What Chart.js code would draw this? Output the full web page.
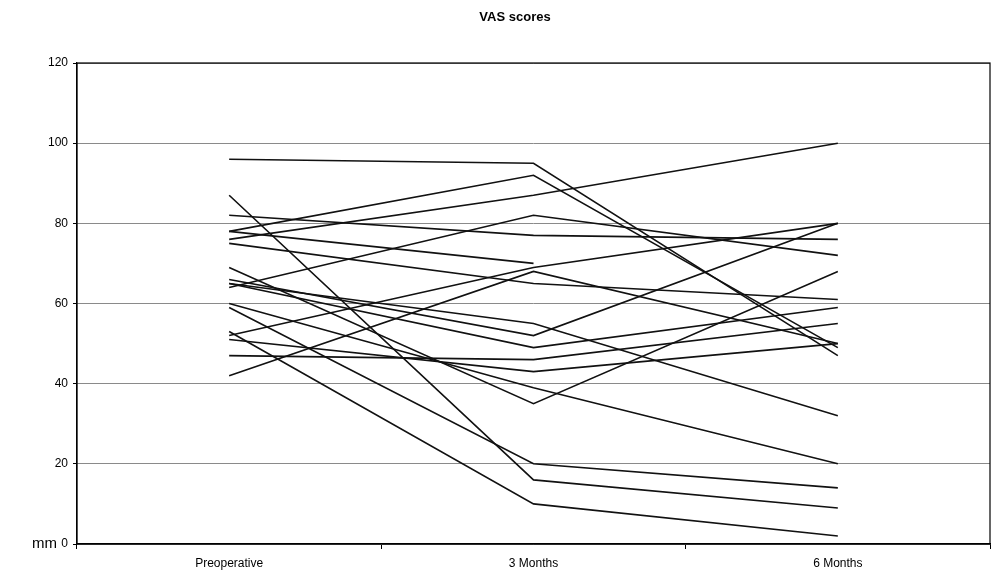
<!DOCTYPE html>
<html>
<head>
<meta charset="utf-8">
<script src="https://cdn.jsdelivr.net/npm/chart.js@4"></script>
<style>
html,body{margin:0;padding:0;background:#fff;}
#wrap{width:991px;height:572px;position:relative;}
</style>
</head>
<body>
<div id="wrap"><canvas id="c"></canvas></div>
<script>
const categories = ['Preoperative', '3 Months', '6 Months'];
const yTicks = [0, 20, 40, 60, 80, 100, 120];
const preoperative = [96, 87, 82, 78, 78, 76, 75, 69, 66, 65, 65, 64, 60, 59, 53, 52, 51, 47, 42];
const month3 =       [95, 16, 77, 92, 70, 87, 65, 35, 52, 55, 49, 82, 39, 20, 10, 69, 43, 46, 68];
const month6 =       [47,  9, 76, 49, null, 100, 61, 68, 80, 32, 59, 72, 20, 14, 2, 80, 50, 55, 50];
const chartTitle = 'VAS scores';
const unitLabel = 'mm';

const datasets = preoperative.map((v, i) => ({
  label: 'Patient ' + (i + 1),
  data: [v, month3[i], month6[i]],
  borderColor: '#111',
  borderWidth: 1.6,
  pointRadius: 0,
  fill: false,
  tension: 0,
  spanGaps: false
}));

const FONT = "'Liberation Sans', Arial, sans-serif";

const framePlugin = {
  id: 'frame',
  afterDraw(chart) {
    const {ctx, chartArea: a, scales} = chart;
    ctx.save();
    ctx.strokeStyle = '#000';
    ctx.lineWidth = 1.2;
    ctx.strokeRect(a.left, a.top, a.right - a.left, a.bottom - a.top);
    ctx.fillStyle = '#000';
    ctx.textBaseline = 'middle';
    ctx.font = 'bold 13px ' + FONT;
    ctx.textAlign = 'center';
    ctx.fillText(chartTitle, 515, 17);
    ctx.font = '15px ' + FONT;
    ctx.textAlign = 'left';
    ctx.fillText(unitLabel, 32, scales.y.getPixelForValue(0));
    ctx.restore();
  }
};

new Chart(document.getElementById('c'), {
  type: 'line',
  data: { labels: categories, datasets },
  plugins: [framePlugin],
  options: {
    responsive: true,
    maintainAspectRatio: false,
    animation: false,
    layout: { padding: { left: 0, right: 1, top: 63, bottom: 0 } },
    plugins: {
      legend: { display: false },
      tooltip: { enabled: false },
      title: { display: false }
    },
    scales: {
      x: {
        offset: true,
        grid: { offset: true, drawOnChartArea: false, drawTicks: true, tickLength: 5, color: '#000' },
        border: { color: '#000', width: 1.2 },
        ticks: { color: '#000', padding: 7, font: { family: FONT, size: 12 } },
        afterFit(s) { s.height = 28; }
      },
      y: {
        min: 0,
        max: 120,
        afterBuildTicks(s) { s.ticks = yTicks.map(v => ({ value: v })); },
        grid: { color: '#8a8a8a', lineWidth: 1, tickLength: 4, tickColor: '#000' },
        border: { color: '#000', width: 1.2 },
        ticks: { color: '#000', padding: 5, font: { family: FONT, size: 12 } },
        afterFit(s) { s.width = 77; }
      }
    }
  }
});
</script>
</body>
</html>
